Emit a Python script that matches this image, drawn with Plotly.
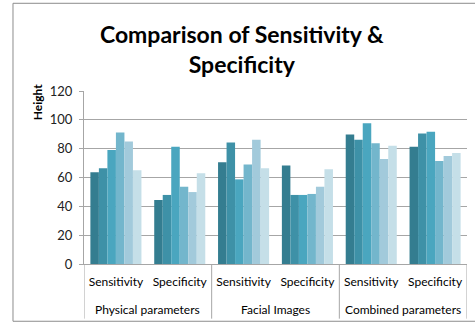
import plotly.graph_objects as go

# Two-level category axis: measure under each parameter group
groups = ["Physical parameters", "Facial Images", "Combined parameters"]
measures = ["Sensitivity", "Specificity"]

# Six series, one value per (group, measure) pair in group order
series_1 = [63.6, 44.4, 70.5, 68.4, 89.9, 81.4]
series_2 = [66.4, 47.9, 84.2, 47.9, 86.2, 90.6]
series_3 = [79.1, 81.4, 58.7, 47.9, 97.6, 91.8]
series_4 = [91.3, 53.6, 69.1, 48.6, 83.7, 71.4]
series_5 = [84.9, 49.9, 86.2, 53.6, 72.8, 74.9]
series_6 = [65.0, 62.9, 66.4, 65.7, 82.1, 77.0]

series = [series_1, series_2, series_3, series_4, series_5, series_6]
names = ["Series 1", "Series 2", "Series 3", "Series 4", "Series 5", "Series 6"]
colors = ["#347D90", "#3E91A7", "#4AA6BF", "#73B6CC", "#A2CADB", "#C5DFE8"]

FONT = "Lato, 'Open Sans', sans-serif"
AXIS_GREY = "#A6A6A6"

# Flat slot positions: one slot per (group, measure)
n_sub = len(measures)
slots = list(range(len(groups) * n_sub))
slot_text = measures * len(groups)

fig = go.Figure()
for name, vals, col in zip(names, series, colors):
    fig.add_trace(go.Bar(
        x=slots, y=vals, name=name,
        marker=dict(color=col, line=dict(width=0)),
    ))

fig.update_layout(
    width=475, height=324,
    margin=dict(l=84, r=8, t=91, b=60),
    paper_bgcolor="white", plot_bgcolor="white",
    barmode="group", bargap=0.2, bargroupgap=0,
    showlegend=False,
    font=dict(family=FONT, color="#000000"),
    title=dict(
        text="<b>Comparison of Sensitivity &amp;<br>Specificity</b>",
        x=0.509, xanchor="center", y=0.868, yanchor="middle",
        font=dict(family=FONT, size=23, color="#000000"),
    ),
)

fig.update_yaxes(
    range=[0, 120], dtick=20, tickfont=dict(size=13, color="#222"),
    showgrid=True, gridcolor=AXIS_GREY, gridwidth=1,
    showline=True, linecolor=AXIS_GREY, linewidth=1,
    ticks="outside", ticklen=4, tickcolor=AXIS_GREY,
    ticklabelstandoff=4, automargin=False,
    zeroline=False,
)
fig.update_xaxes(
    range=[-0.5, len(slots) - 0.5],
    tickmode="array", tickvals=slots, ticktext=slot_text,
    tickfont=dict(size=12, color="#000"), tickangle=0, automargin=False,
    showline=True, linecolor=AXIS_GREY, linewidth=1,
    ticks="", showgrid=False, zeroline=False, ticklabelstandoff=7,
)

# Group dividers below the axis and group labels between them
for k in range(len(groups) + 1):
    xb = k * n_sub - 0.5
    fig.add_shape(
        type="line", xref="x", yref="paper",
        x0=xb, x1=xb, y0=0, y1=-0.316,
        line=dict(color=AXIS_GREY, width=1),
    )
for k, g in enumerate(groups):
    fig.add_annotation(
        text=g, xref="x", yref="paper",
        x=k * n_sub + (n_sub - 1) / 2, y=-0.262,
        xanchor="center", yanchor="middle", showarrow=False,
        font=dict(family=FONT, size=12, color="#000"),
    )

# Rotated axis title near the top of the value axis
fig.add_annotation(
    text="<b>Height</b>", textangle=-90,
    xref="paper", yref="paper", x=-0.1227, y=0.935,
    xanchor="center", yanchor="middle", showarrow=False,
    font=dict(family=FONT, size=12, color="#000"),
)

# Chart frame
fig.add_shape(
    type="rect", xref="paper", yref="paper",
    x0=-0.1854, x1=1.04, y0=-0.331, y1=1.507,
    line=dict(color="#8C8C8C", width=1), fillcolor="rgba(0,0,0,0)",
    layer="below",
)

fig.write_html("out.html")
